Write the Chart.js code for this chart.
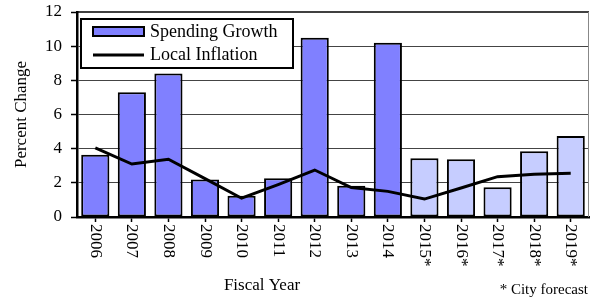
<!DOCTYPE html>
<html>
<head>
<meta charset="utf-8">
<script src="https://cdn.jsdelivr.net/npm/chart.js@4.4.0/dist/chart.umd.min.js"></script>
<style>
  html, body { margin: 0; padding: 0; background: #fff; }
  #wrap { width: 590px; height: 299px; position: relative; }
</style>
</head>
<body>
<div id="wrap"><canvas id="chart1" width="590" height="299"></canvas></div>
<script>
// data
const years = ['2006','2007','2008','2009','2010','2011','2012','2013','2014','2015*','2016*','2017*','2018*','2019*'];
const spending = [3.65, 7.3, 8.4, 2.2, 1.25, 2.27, 10.5, 1.83, 10.2, 3.44, 3.38, 1.74, 3.85, 4.74];
const inflation = [4.05, 3.1, 3.38, 2.25, 1.1, 1.9, 2.75, 1.72, 1.5, 1.05, 1.7, 2.36, 2.5, 2.56];
const yTicks = [0, 2, 4, 6, 8, 10, 12];

const serif = '"Liberation Serif", "Times New Roman", serif';
const darkBlue = '#8080ff';
const lightBlue = '#c6cdff';
// forecast years (with *) get the light colour
const barColors = years.map(y => y.endsWith('*') ? lightBlue : darkBlue);

// draws the legend box, rotated year labels and the notes
const extras = {
  id: 'extras',
  afterDraw(chart) {
    const ctx = chart.ctx;
    const area = chart.chartArea;
    const x = chart.scales.x;

    ctx.save();
    // top solid border and right thin border
    ctx.strokeStyle = '#000';
    ctx.lineWidth = 1.5;
    ctx.beginPath();
    ctx.moveTo(area.left, area.top);
    ctx.lineTo(area.right, area.top);
    ctx.stroke();
    ctx.strokeStyle = '#888';
    ctx.lineWidth = 1;
    ctx.beginPath();
    ctx.moveTo(area.right - 0.5, area.top);
    ctx.lineTo(area.right - 0.5, area.bottom);
    ctx.stroke();

    // x labels, read top to bottom
    ctx.fillStyle = '#000';
    ctx.font = '17px ' + serif;
    ctx.textAlign = 'left';
    ctx.textBaseline = 'middle';
    years.forEach((lab, i) => {
      const px = x.getPixelForValue(i);
      ctx.save();
      ctx.translate(px, area.bottom + 7);
      ctx.rotate(Math.PI / 2);
      ctx.fillText(lab, 0, 0);
      ctx.restore();
    });

    ctx.textAlign = 'center';
    ctx.fillText('Fiscal Year', 262, 286);
    ctx.font = '15px ' + serif;
    ctx.textAlign = 'right';
    ctx.fillText('* City forecast', 588, 290);

    // legend
    ctx.fillStyle = '#fff';
    ctx.fillRect(81, 19, 212, 49);
    ctx.strokeStyle = '#000';
    ctx.lineWidth = 2;
    ctx.strokeRect(81, 19, 212, 49);
    ctx.fillStyle = darkBlue;
    ctx.fillRect(93, 27, 51, 9);
    ctx.strokeRect(93, 27, 51, 9);
    ctx.lineWidth = 3;
    ctx.beginPath();
    ctx.moveTo(93, 55);
    ctx.lineTo(144, 55);
    ctx.stroke();
    ctx.fillStyle = '#000';
    ctx.font = '18px ' + serif;
    ctx.textAlign = 'left';
    ctx.fillText(chart.data.datasets[0].label, 150, 32);
    ctx.fillText(chart.data.datasets[1].label, 150, 55);
    ctx.restore();
  }
};

new Chart(document.getElementById('chart1').getContext('2d'), {
  data: {
    labels: years,
    datasets: [
      {
        type: 'bar',
        label: 'Spending Growth',
        data: spending,
        backgroundColor: barColors,
        borderColor: '#000',
        borderWidth: 2,
        borderSkipped: false,
        barPercentage: 0.77,
        categoryPercentage: 1,
        order: 2
      },
      {
        type: 'line',
        label: 'Local Inflation',
        data: inflation,
        borderColor: '#000',
        borderWidth: 3,
        pointRadius: 0,
        tension: 0,
        order: 1
      }
    ]
  },
  options: {
    responsive: false,
    animation: false,
    devicePixelRatio: 1,
    layout: { padding: { top: 12, right: 1, left: 0, bottom: 0 } },
    plugins: {
      legend: { display: false },
      tooltip: { enabled: false }
    },
    scales: {
      x: {
        offset: true,
        grid: {
          drawOnChartArea: false,
          drawTicks: true,
          tickLength: 5,
          tickColor: '#000',
          tickWidth: 1.5,
          offset: false
        },
        border: { color: '#000', width: 2.5 },
        ticks: { display: false },
        afterFit(scale) { scale.height = 82; }
      },
      y: {
        min: 0,
        max: 12,
        afterBuildTicks(scale) { scale.ticks = yTicks.map(v => ({ value: v })); },
        grid: {
          color: ctx => (ctx.tick && (ctx.tick.value === 0 || ctx.tick.value === 12)) ? 'rgba(0,0,0,0)' : '#444',
          lineWidth: 1,
          borderDash: [1.5, 1.5],
          drawTicks: true,
          tickLength: 6,
          tickColor: '#000',
          tickWidth: 1.5,
          tickBorderDash: []
        },
        border: { color: '#000', width: 2.5 },
        ticks: {
          color: '#000',
          font: { family: serif, size: 17 },
          padding: 9
        },
        title: {
          display: true,
          text: 'Percent Change',
          color: '#000',
          font: { family: serif, size: 17 },
          padding: { top: 11, bottom: 0 }
        },
        afterFit(scale) {
          scale.width = 77;
          scale.paddingTop = 0;
          scale.paddingBottom = 0;
        }
      }
    }
  },
  plugins: [extras]
});
</script>
</body>
</html>
